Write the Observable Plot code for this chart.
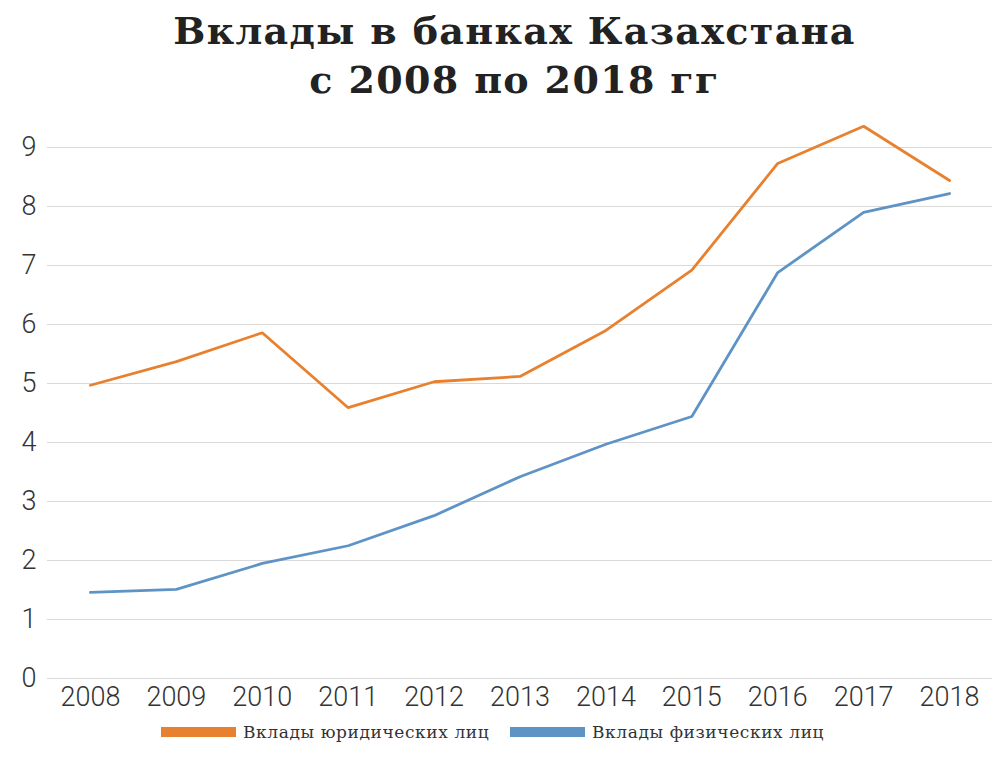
<!DOCTYPE html>
<html>
<head>
<meta charset="utf-8">
<script src="https://cdn.jsdelivr.net/npm/d3@7"></script>
<script src="https://cdn.jsdelivr.net/npm/@observablehq/plot@0.6"></script>
<style>
  html, body { margin: 0; padding: 0; background: #fff; }
  #wrap { width: 1004px; position: relative; }
  #title { height: 110px; box-sizing: border-box; padding-top: 6px; padding-left: 25px; text-align: center;
    font-family: "DejaVu Serif", serif; font-weight: bold; font-size: 38px; line-height: 49px; color: #222; letter-spacing: 1.35px; }
  #legend { position: relative; height: 50px; font-family: "DejaVu Serif", serif; font-size: 17px; line-height: 20px; color: #333; letter-spacing: 0.6px; }
  .item { position: absolute; top: 2px; display: flex; align-items: center; }
  .sw { width: 75px; height: 10px; margin-right: 7px; }
</style>
</head>
<body>
<div id="wrap">
  <div id="title">Вклады в банках Казахстана<br>с 2008 по 2018 гг</div>
  <div id="chart"></div>
  <div id="legend"></div>
</div>
<script>
const years = [2008, 2009, 2010, 2011, 2012, 2013, 2014, 2015, 2016, 2017, 2018];
const legalDeposits = [4.97, 5.37, 5.86, 4.59, 5.03, 5.12, 5.9, 6.92, 8.73, 9.36, 8.44];
const personalDeposits = [1.46, 1.51, 1.95, 2.25, 2.76, 3.42, 3.97, 4.44, 6.88, 7.9, 8.22];
const seriesNames = ["Вклады юридических лиц", "Вклады физических лиц"];
const seriesColors = ["#e8812f", "#5e93c6"];
const yTicks = [0, 1, 2, 3, 4, 5, 6, 7, 8, 9];

const data = [];
years.forEach((y, i) => {
  data.push({year: y, value: legalDeposits[i], series: seriesNames[0]});
  data.push({year: y, value: personalDeposits[i], series: seriesNames[1]});
});

const chart = Plot.plot({
  width: 1004,
  height: 610,
  marginTop: 37,
  marginBottom: 42,
  marginLeft: 47,
  marginRight: 12,
  style: {fontFamily: "Roboto", fontWeight: 300, fontSize: "27px", color: "#333", background: "#fff"},
  x: {domain: [2007.5, 2018.5], ticks: years, tickFormat: d => String(d), tickSize: 0, tickPadding: 8, label: null},
  y: {domain: [0, 9], ticks: yTicks, tickSize: 0, tickPadding: 11, label: null},
  color: {domain: seriesNames, range: seriesColors},
  marks: [
    Plot.ruleY(yTicks, {stroke: "#d9d9d9", strokeWidth: 1}),
    Plot.line(data, {x: "year", y: "value", z: "series", stroke: "series", strokeWidth: 2.8, strokeLinejoin: "miter"})
  ]
});
document.getElementById("chart").appendChild(chart);

const legend = document.getElementById("legend");
const lefts = [161, 510];
seriesNames.forEach((n, i) => {
  const it = document.createElement("div");
  it.className = "item";
  it.style.left = lefts[i] + "px";
  it.innerHTML = `<span class="sw" style="background:${seriesColors[i]}"></span><span>${n}</span>`;
  legend.appendChild(it);
});
</script>
</body>
</html>
